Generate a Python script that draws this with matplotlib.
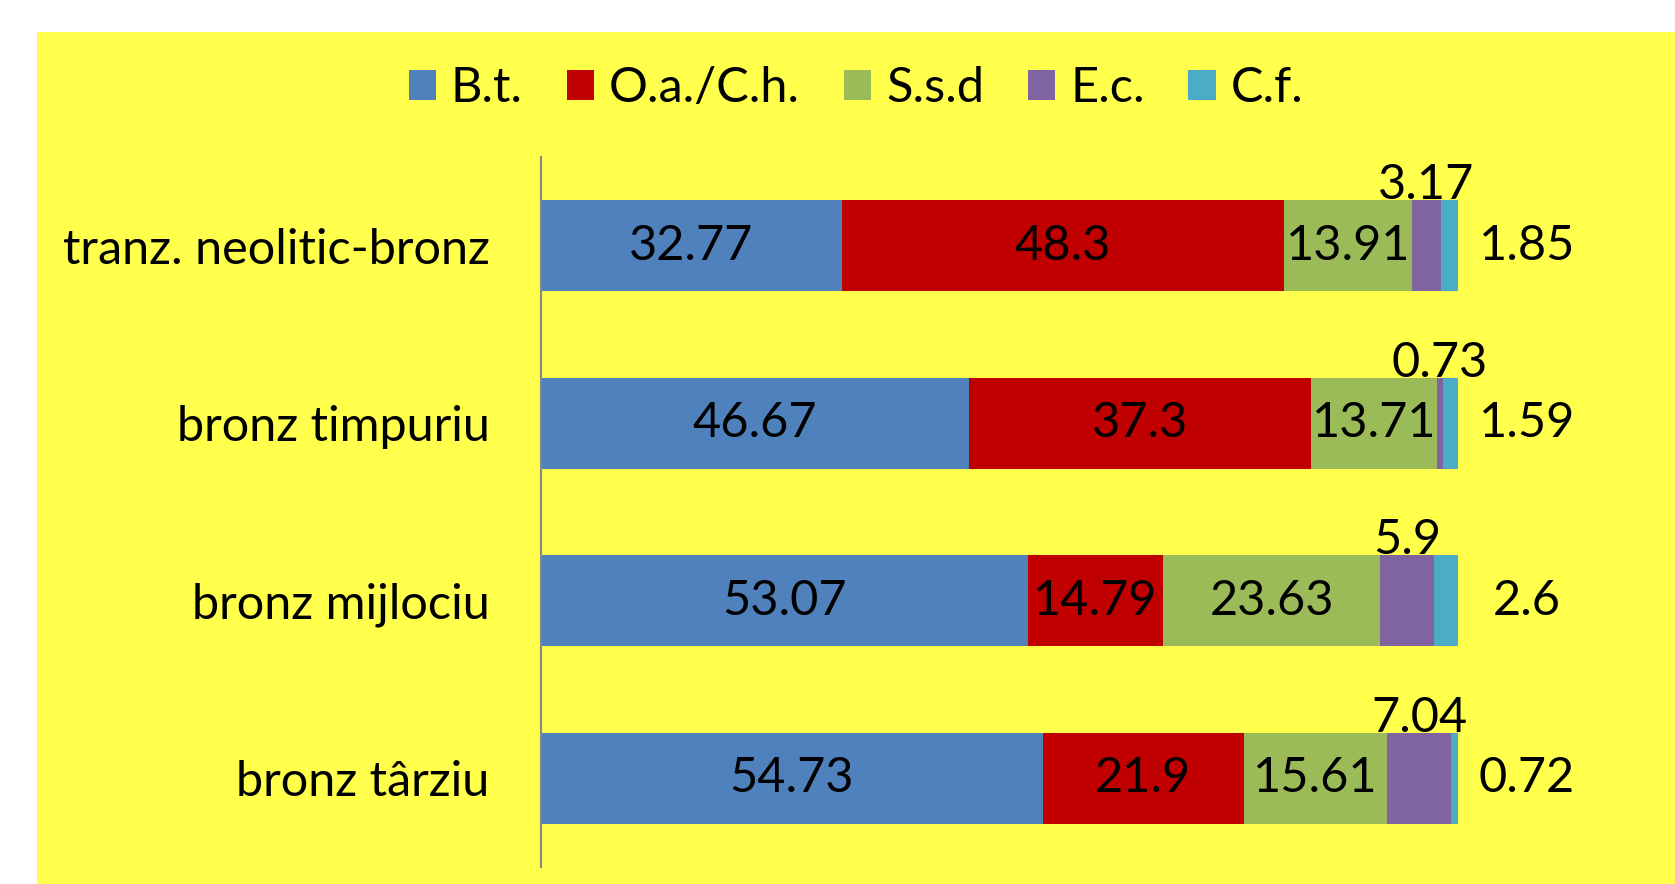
import numpy as np
import matplotlib.pyplot as plt
from matplotlib.patches import Rectangle

# data
categories = ["tranz. neolitic-bronz", "bronz timpuriu", "bronz mijlociu", "bronz târziu"]
series_names = ["B.t.", "O.a./C.h.", "S.s.d", "E.c.", "C.f."]
bt = [32.77, 46.67, 53.07, 54.73]
oa_ch = [48.3, 37.3, 14.79, 21.9]
ssd = [13.91, 13.71, 23.63, 15.61]
ec = [3.17, 0.73, 5.9, 7.04]
cf = [1.85, 1.59, 2.6, 0.72]

colors = ["#4F81BD", "#C00000", "#9BBB59", "#8064A2", "#4BACC6"]

plt.rcParams['font.family'] = ['Lato', 'DejaVu Sans']

W, H = 1675, 884
fig = plt.figure(figsize=(W / 100, H / 100), dpi=100)
fig.patch.set_facecolor("white")
# yellow chart area
fig.patches.append(Rectangle((37 / W, 0), 1 - 37 / W, 1 - 32 / H, transform=fig.transFigure,
                             facecolor="#FFFF4C", edgecolor="none", zorder=-10))

ax = fig.add_axes([541 / W, 17 / H, (1458 - 541) / W, (867 - 157) / H])
ax.set_facecolor("none")
ax.set_zorder(1)

y = np.arange(len(categories))
all_series = [bt, oa_ch, ssd, ec, cf]
left = np.zeros(len(categories))
for name, vals, c in zip(series_names, all_series, colors):
    ax.barh(y, vals, left=left, height=0.51, color=c, label=name)
    left = left + np.array(vals)

fs = 35
# labels centred on the big segments, small ones moved above / to the right
lefts = np.zeros(len(categories))
for k, vals in enumerate(all_series):
    for i, v in enumerate(vals):
        cx = lefts[i] + v / 2
        if k < 3:
            ax.text(cx, y[i], f"{v:g}", ha="center", va="center", fontsize=fs, color="black")
        elif k == 3:
            ax.text(cx, y[i] - 0.34, f"{v:g}", ha="center", va="center", fontsize=fs, color="black")
        else:
            ax.text(lefts[i] + v + 7.5, y[i], f"{v:g}", ha="center", va="center", fontsize=fs,
                    color="black", clip_on=False)
    lefts = lefts + np.array(vals)

ax.set_xlim(0, 100)
ax.set_ylim(3.5, -0.5)
ax.set_yticks(y)
ax.set_yticklabels(categories, fontsize=fs)
ax.tick_params(axis="y", length=0, pad=37)
ax.set_xticks([])
for s in ["top", "right", "bottom"]:
    ax.spines[s].set_visible(False)
ax.spines["left"].set_color("#868686")
ax.spines["left"].set_linewidth(1.5)

fig.legend(loc="center", bbox_to_anchor=(856 / W, 1 - 88 / H), ncol=5, frameon=False,
           fontsize=fs, handlelength=0.57, handleheight=0.57, handletextpad=0.3,
           columnspacing=0.9)

fig.savefig("out.png", dpi=100)
